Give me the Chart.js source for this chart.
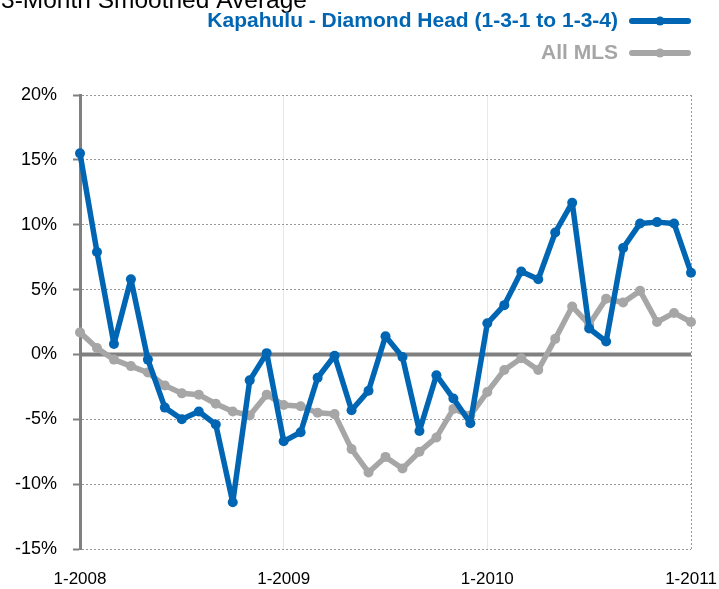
<!DOCTYPE html>
<html>
<head>
<meta charset="utf-8">
<script src="https://cdn.jsdelivr.net/npm/chart.js@4/dist/chart.umd.min.js"></script>
<style>
  html, body { margin: 0; padding: 0; background: #fff; overflow: hidden; }
</style>
</head>
<body>
<canvas id="Price" width="719" height="589"></canvas>
<script>
var months = [
  '1-2008','2-2008','3-2008','4-2008','5-2008','6-2008','7-2008','8-2008','9-2008','10-2008','11-2008','12-2008',
  '1-2009','2-2009','3-2009','4-2009','5-2009','6-2009','7-2009','8-2009','9-2009','10-2009','11-2009','12-2009',
  '1-2010','2-2010','3-2010','4-2010','5-2010','6-2010','7-2010','8-2010','9-2010','10-2010','11-2010','12-2010',
  '1-2011'
];
var kapahulu = [
  15.5, 7.9, 0.8, 5.8, -0.4, -4.1, -5.0, -4.4, -5.4, -11.4, -2.0, 0.1,
  -6.7, -6.0, -1.8, -0.1, -4.3, -2.8, 1.4, -0.2, -5.9, -1.6, -3.4, -5.3,
  2.4, 3.8, 6.4, 5.8, 9.4, 11.7, 2.0, 1.0, 8.2, 10.1, 10.2, 10.1,
  6.3
];
var allMls = [
  1.7, 0.5, -0.4, -0.9, -1.4, -2.4, -3.0, -3.1, -3.8, -4.4, -4.7, -3.1,
  -3.9, -4.0, -4.5, -4.6, -7.3, -9.1, -7.9, -8.8, -7.5, -6.4, -4.2, -4.7,
  -2.9, -1.2, -0.3, -1.2, 1.2, 3.7, 2.3, 4.3, 4.0, 4.9, 2.5, 3.2,
  2.5
];
var seriesNames = ['Kapahulu - Diamond Head (1-3-1 to 1-3-4)', 'All MLS'];
var chartTitle = '3-Month Smoothed Average';

var BLUE = '#0066b3';
var GREY = '#a6a6a6';
var FONT = '"Liberation Sans", Arial, sans-serif';

// zero line under the data, dotted right edge, title and legend
var decor = {
  id: 'decor',
  beforeDatasetsDraw: function(chart){
    var ctx = chart.ctx, area = chart.chartArea;
    var y0 = chart.scales.y.getPixelForValue(0);
    var xr = chart.scales.x.getPixelForValue(months.length - 1);
    ctx.save();
    ctx.strokeStyle = '#999';
    ctx.lineWidth = 1;
    ctx.setLineDash([2, 2]);
    ctx.beginPath();
    ctx.moveTo(xr + 0.5, area.top);
    ctx.lineTo(xr + 0.5, area.bottom);
    ctx.stroke();
    ctx.setLineDash([]);
    ctx.strokeStyle = '#808080';
    ctx.lineWidth = 4;
    ctx.beginPath();
    ctx.moveTo(area.left, y0);
    ctx.lineTo(area.right, y0);
    ctx.stroke();
    ctx.restore();
  },
  afterDraw: function(chart){
    var ctx = chart.ctx;
    ctx.save();
    ctx.fillStyle = '#000';
    ctx.font = '24.5px ' + FONT;
    ctx.textAlign = 'left';
    ctx.textBaseline = 'alphabetic';
    ctx.fillText(chartTitle, 1, 8);

    var rows = [
      {text: seriesNames[0], color: BLUE, y: 21},
      {text: seriesNames[1], color: GREY, y: 53}
    ];
    rows.forEach(function(r){
      ctx.font = 'bold 21px ' + FONT;
      ctx.fillStyle = r.color;
      ctx.textAlign = 'right';
      ctx.textBaseline = 'middle';
      ctx.fillText(r.text, 618, r.y);
      ctx.strokeStyle = r.color;
      ctx.lineWidth = 6;
      ctx.lineCap = 'round';
      ctx.beginPath();
      ctx.moveTo(632, r.y);
      ctx.lineTo(688, r.y);
      ctx.stroke();
      ctx.fillStyle = r.color;
      ctx.beginPath();
      ctx.arc(660, r.y, 4.5, 0, Math.PI * 2);
      ctx.fill();
    });
    ctx.restore();
  }
};

new Chart('Price', {
  type: 'line',
  data: {
    labels: months,
    datasets: [
      {
        label: seriesNames[0],
        data: kapahulu,
        borderColor: BLUE,
        backgroundColor: BLUE,
        borderWidth: 5.5,
        borderJoinStyle: 'round',
        borderCapStyle: 'round',
        pointRadius: 5,
        pointBorderWidth: 0,
        tension: 0
      },
      {
        label: seriesNames[1],
        data: allMls,
        borderColor: GREY,
        backgroundColor: GREY,
        borderWidth: 5.5,
        borderJoinStyle: 'round',
        borderCapStyle: 'round',
        pointRadius: 5,
        pointBorderWidth: 0,
        tension: 0
      }
    ]
  },
  options: {
    responsive: false,
    animation: false,
    events: [],
    layout: { padding: { top: 95, right: 28, left: 0, bottom: 0 } },
    plugins: {
      legend: { display: false },
      title: { display: false },
      tooltip: { enabled: false }
    },
    scales: {
      x: {
        afterFit: function(s){
          s.height = 40;
          s.paddingLeft = 0;
          s.paddingRight = 0;
        },
        grid: {
          drawTicks: false,
          color: function(c){
            var i = c.index;
            if (i === 12 || i === 24) return '#e8e8e8';
            return 'rgba(0,0,0,0)';
          },
          lineWidth: 1
        },
        border: { display: false },
        ticks: {
          autoSkip: false,
          maxRotation: 0,
          padding: 20,
          color: '#000',
          font: { family: FONT, size: 17 },
          callback: function(v, i){ return i % 12 === 0 ? months[i] : ''; }
        }
      },
      y: {
        min: -15,
        max: 20,
        afterFit: function(s){ s.width = 80; },
        grid: {
          color: function(c){ return c.tick && c.tick.value === 0 ? 'rgba(0,0,0,0)' : '#999'; },
          lineWidth: 1,
          tickColor: '#808080',
          tickLength: 7,
          tickWidth: 2
        },
        border: { display: true, color: '#808080', width: 3, dash: [2, 2] },
        ticks: {
          stepSize: 5,
          padding: 16,
          color: '#000',
          font: { family: FONT, size: 18 },
          callback: function(v){ return v + '%'; }
        }
      }
    }
  },
  plugins: [decor]
});
</script>
</body>
</html>
